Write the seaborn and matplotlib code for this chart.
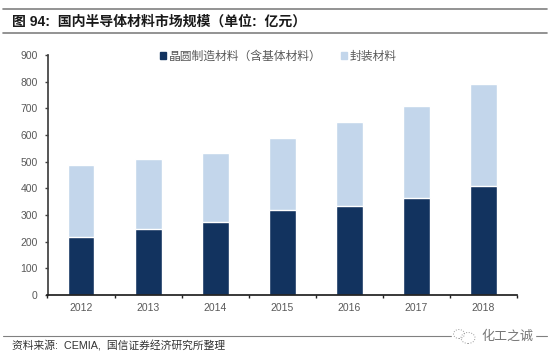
#!/usr/bin/env python3
"""Domestic semiconductor materials market size, stacked bars."""

import matplotlib
matplotlib.use('Agg')
import matplotlib.pyplot as plt
import pandas as pd
import seaborn as sns
from matplotlib.patches import Ellipse, Patch

years = ['2012', '2013', '2014', '2015', '2016', '2017', '2018']
wafer_materials = [217, 246, 273, 317, 333, 365, 408]
packaging_materials = [269, 264, 261, 272, 316, 345, 385]
y_ticks = [0, 100, 200, 300, 400, 500, 600, 700, 800, 900]

title_text = '图 94:  国内半导体材料市场规模（单位:  亿元）'
source_text = '资料来源:  CEMIA,  国信证券经济研究所整理'
watermark_text = '化工之诚'
wafer_label = '晶圆制造材料（含基体材料）'
packaging_label = '封装材料'

DARK = '#12335F'
LIGHT = '#C3D6EB'
GRAY = '#595959'
RULE = '#808080'
W, H = 550, 361

sns.set_theme(style='white')
plt.rcParams['font.family'] = ['Liberation Sans', 'Noto Sans CJK SC', 'DejaVu Sans']

df = pd.DataFrame({'year': years, 'wafer': wafer_materials, 'packaging': packaging_materials})
df['total'] = df['wafer'] + df['packaging']

fig = plt.figure(figsize=(W / 100, H / 100), dpi=100)
ax = fig.add_axes([47.5 / W, 1 - 294.7 / H, 469.5 / W, 239.4 / H])

# totals first, wafer drawn on top gives the stack
sns.barplot(data=df, x='year', y='total', color=LIGHT, width=0.4, saturation=1, ax=ax)
sns.barplot(data=df, x='year', y='wafer', color=DARK, width=0.4, saturation=1, ax=ax)

ax.set_xlim(-0.5, len(years) - 0.5)
ax.set_ylim(0, 900)
ax.set_yticks(y_ticks)
ax.set_xlabel('')
ax.set_ylabel('')
ax.tick_params(axis='y', left=True, length=2.5, width=1, color='#404040',
               labelsize=7.5, labelcolor=GRAY, pad=4.5)
ax.tick_params(axis='x', bottom=False, length=0, labelsize=7.5, labelcolor=GRAY, pad=6)
# x ticks sit between the categories
ax.set_xticks([i - 0.5 for i in range(len(years) + 1)], minor=True)
ax.tick_params(axis='x', which='minor', bottom=True, length=2.5, width=1, color='#202020')

for side in ['top', 'right']:
    ax.spines[side].set_visible(False)
ax.spines['left'].set_color('#404040')
ax.spines['bottom'].set_color('#202020')

handles = [Patch(color=DARK, label=wafer_label), Patch(color=LIGHT, label=packaging_label)]
ax.legend(handles=handles, loc='upper left', bbox_to_anchor=(112.5 / 469.5, 1.02), ncol=2, frameon=False,
          fontsize=8.5, labelcolor=GRAY, handlelength=0.5, handleheight=0.5,
          handletextpad=0.25, columnspacing=1.63, borderpad=0, borderaxespad=0)

for y, lw in [(9, 1.2), (32.7, 1.2), (336, 0.8)]:
    fig.add_artist(plt.Line2D([2.5 / W, 547 / W], [1 - y / H, 1 - y / H], color=RULE, lw=lw))

fig.text(11.5 / W, 1 - 21.5 / H, title_text, fontsize=10, fontweight='bold', color='#1a1a1a', va='center')
fig.text(11.5 / W, 1 - 345.7 / H, source_text, fontsize=7.75, color='#333333', va='center')

# watermark: white backing, chat bubble outlines and the account name
fig.add_artist(plt.Rectangle((452 / W, 1 - 345 / H), 83 / W, 17 / H, color='white', zorder=3))
for cx, cy, ew, eh in [(459, 334, 11, 9), (468, 338, 14, 11)]:
    fig.add_artist(Ellipse((cx / W, 1 - cy / H), ew / W, eh / H, fill=False, ec='#9a9a9a',
                           lw=0.7, ls=':', zorder=4))
fig.text(481 / W, 1 - 337 / H, watermark_text, fontsize=9.4, color='#777777', va='center', zorder=5)

fig.savefig('out.png', dpi=100)
